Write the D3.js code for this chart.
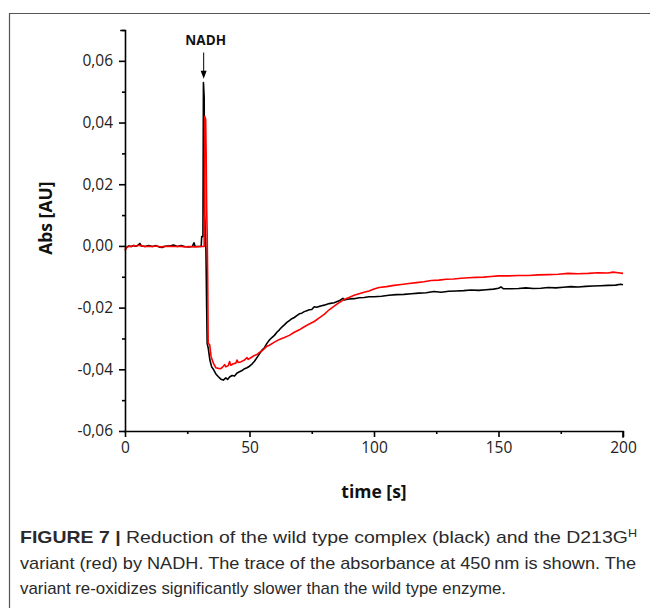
<!DOCTYPE html>
<html>
<head>
<meta charset="utf-8">
<script src="https://cdn.jsdelivr.net/npm/d3@7"></script>
<style>
  body { margin: 0; background: #fff; }
  svg { display: block; }
</style>
</head>
<body>
<div id="wrapper"></div>
<script>
// wild type complex (black), time [s] and absorbance [AU]
const wtTime = [0, 0.7, 1.5, 2.5, 3.5, 4.5, 5.5, 6, 6.5, 8, 9.5, 11, 12.5, 14, 15, 16, 18, 19.5, 21, 22.5, 24, 25.5, 27, 27.7, 28.2, 29.5, 30.6, 30.8, 31.3, 31.5, 31.8, 32.0, 32.2, 32.5, 32.8, 33.0, 33.4, 34.1, 34.8, 35.5, 36.5, 37.5, 38.5, 39.5, 40.5, 41.2, 42, 43, 44, 45, 46, 47, 48, 49, 50, 51, 52, 53, 54, 55, 56, 57, 58, 59, 60, 61, 62, 63, 64, 65, 66, 67, 68, 69, 70, 71, 72, 73, 74, 75, 76, 77, 78, 79, 80, 82, 84, 86, 87.5, 88, 90, 92, 94, 96, 98, 100, 103, 106, 109, 112, 115, 118, 121, 124, 127, 130, 133, 136, 139, 142, 145, 148, 150, 151, 152, 155, 158, 161, 164, 167, 170, 173, 176, 179, 182, 185, 188, 191, 194, 197, 199, 200]
const wtAbs = [-0.0012, -0.0004, 0.0000, -0.0002, 0.0001, -0.0001, 0.0004, 0.0008, 0.0000, -0.0002, 0.0001, -0.0002, 0.0001, -0.0004, -0.0005, -0.0001, 0.0000, 0.0003, -0.0002, 0.0001, -0.0002, -0.0003, -0.0002, 0.0010, -0.0002, -0.0002, -0.0002, 0.003, 0.003, 0.053, 0.048, 0.010, 0.006, -0.001, -0.020, -0.0316, -0.033, -0.037, -0.0392, -0.040, -0.0415, -0.0424, -0.0432, -0.0435, -0.0428, -0.0433, -0.0425, -0.0420, -0.0422, -0.0412, -0.0408, -0.0404, -0.0398, -0.0395, -0.0390, -0.0383, -0.0374, -0.0362, -0.0350, -0.0338, -0.0330, -0.0316, -0.0305, -0.0297, -0.0290, -0.0280, -0.0272, -0.0263, -0.0256, -0.0248, -0.0242, -0.0236, -0.0232, -0.0226, -0.0220, -0.0218, -0.0213, -0.0210, -0.0207, -0.0206, -0.0197, -0.0199, -0.0196, -0.0194, -0.0192, -0.0187, -0.0184, -0.0178, -0.0170, -0.0175, -0.0172, -0.0171, -0.0168, -0.0167, -0.0165, -0.0165, -0.0163, -0.0160, -0.0158, -0.0157, -0.0155, -0.0153, -0.0152, -0.0148, -0.0150, -0.0147, -0.0146, -0.0145, -0.0143, -0.0144, -0.0142, -0.0140, -0.0137, -0.0133, -0.0139, -0.0139, -0.0138, -0.0136, -0.0138, -0.0137, -0.0135, -0.0136, -0.0134, -0.0132, -0.0133, -0.0131, -0.0130, -0.0129, -0.0128, -0.0127, -0.0124, -0.0126]

// D213G variant (red)
const varTime = [0, 0.7, 1.5, 2.5, 3.5, 4.5, 5.5, 6.5, 8, 9.5, 11, 12.5, 14, 16, 18, 20, 22, 24, 26, 28, 30, 31.5, 31.8, 32.0, 32.4, 32.6, 32.8, 33.0, 33.2, 33.4, 34.0, 34.6, 35.5, 36.5, 37.5, 38.5, 39.5, 40, 40.5, 41.5, 42, 42.5, 43.5, 44.5, 45, 45.5, 46.5, 48, 49, 49.5, 51, 52, 53, 54, 55, 56, 57, 58, 60, 62, 64, 66, 68, 70, 72, 74, 76, 78, 80, 82, 84, 86, 88, 90, 92, 94, 96, 98, 100, 102, 105, 108, 111, 114, 117, 120, 123, 126, 129, 132, 135, 138, 141, 144, 147, 150, 154, 158, 162, 166, 170, 174, 178, 182, 186, 190, 194, 196, 198, 200]
const varAbs = [-0.0015, -0.0005, -0.0001, -0.0002, 0.0001, 0.0000, 0.0002, 0.0001, -0.0002, -0.0001, -0.0002, 0.0000, -0.0003, -0.0002, -0.0001, -0.0002, -0.0001, -0.0003, -0.0002, -0.0003, -0.0002, -0.0002, -0.0002, 0.042, 0.041, 0.029, 0.012, 0.004, -0.010, -0.0316, -0.032, -0.036, -0.038, -0.0395, -0.0397, -0.0398, -0.039, -0.0385, -0.0392, -0.0388, -0.0375, -0.0387, -0.0382, -0.0380, -0.0370, -0.0378, -0.0376, -0.0370, -0.0362, -0.0368, -0.0360, -0.0355, -0.0352, -0.0345, -0.0340, -0.0333, -0.0325, -0.0322, -0.0312, -0.0303, -0.0297, -0.0290, -0.0280, -0.0272, -0.0262, -0.0253, -0.0245, -0.0233, -0.0222, -0.0207, -0.0195, -0.0184, -0.0174, -0.0167, -0.0160, -0.0155, -0.0150, -0.0146, -0.0140, -0.0135, -0.0132, -0.0128, -0.0125, -0.0122, -0.0119, -0.0116, -0.0112, -0.0111, -0.0108, -0.0107, -0.0105, -0.0103, -0.0102, -0.0101, -0.0099, -0.0097, -0.0097, -0.0096, -0.0096, -0.0094, -0.0093, -0.0092, -0.0089, -0.0090, -0.0089, -0.0087, -0.0088, -0.0085, -0.0087, -0.0089]

// axis ticks
const xMajorTicks = [0, 50, 100, 150, 200]
const xMinorTicks = [25, 75, 125, 175]
const yMajorTicks = [-0.06, -0.04, -0.02, 0.00, 0.02, 0.04, 0.06]
const yMinorTicks = [-0.05, -0.03, -0.01, 0.01, 0.03, 0.05, 0.07]

const injectTime = 31.6
const injectLabel = "NADH"

const captionLines = [
  { bold: "FIGURE 7 | ", text: "Reduction of the wild type complex (black) and the D213G", sup: "H", width: 617 },
  { bold: "", text: "variant (red) by NADH. The trace of the absorbance at 450\u2009nm is shown. The", width: 616 },
  { bold: "", text: "variant re-oxidizes significantly slower than the wild type enzyme.", width: 486 },
]

function drawChart() {
  const width = 650
  const height = 608
  const dimensions = {
    width: width,
    height: height,
    margin: { top: 30, right: 27, bottom: 177, left: 125 },
  }
  dimensions.boundedWidth = dimensions.width - dimensions.margin.left - dimensions.margin.right
  dimensions.boundedHeight = dimensions.height - dimensions.margin.top - dimensions.margin.bottom

  const svg = d3
    .select("#wrapper")
    .append("svg")
    .attr("width", dimensions.width)
    .attr("height", dimensions.height)

  // figure frame (top and left edges visible)
  svg.append("path")
    .attr("d", "M9.5,608 V13.5 H650")
    .attr("fill", "none")
    .attr("stroke", "#555")
    .attr("stroke-width", 1.2)

  const bounds = svg
    .append("g")
    .attr("transform", `translate(${dimensions.margin.left},${dimensions.margin.top})`)

  const xScale = d3.scaleLinear().domain([0, 200]).range([0, dimensions.boundedWidth])
  const yScale = d3.scaleLinear().domain([-0.06, 0.07]).range([dimensions.boundedHeight, 0])

  // traces
  const lineGenerator = d3
    .line()
    .x((d) => xScale(d[0]))
    .y((d) => yScale(d[1]))

  const wtData = wtTime.map((t, i) => [t, wtAbs[i]])
  const varData = varTime.map((t, i) => [t, varAbs[i]])

  bounds.append("path")
    .datum(wtData)
    .attr("d", lineGenerator)
    .attr("fill", "none")
    .attr("stroke", "#000")
    .attr("stroke-width", 1.6)
    .attr("stroke-linejoin", "round")

  bounds.append("path")
    .datum(varData)
    .attr("d", lineGenerator)
    .attr("fill", "none")
    .attr("stroke", "#ff0000")
    .attr("stroke-width", 1.6)
    .attr("stroke-linejoin", "round")

  // axes
  const fmt = (d) => (d < -1e-9 ? "-" : "") + Math.abs(d).toFixed(2).replace(".", ",")
  const tickFont = "'Open Sans', sans-serif"

  const yAxis = bounds.append("g")
    .call(d3.axisLeft(yScale).tickValues(yMajorTicks).tickFormat(fmt).tickSize(6).tickPadding(6))
  const yMinor = bounds.append("g")
    .call(d3.axisLeft(yScale).tickValues(yMinorTicks).tickFormat("").tickSize(3))
  yMinor.select(".domain").remove()

  const xAxis = bounds.append("g")
    .attr("transform", `translate(0,${dimensions.boundedHeight})`)
    .call(d3.axisBottom(xScale).tickValues(xMajorTicks).tickFormat(d3.format("d")).tickSize(6).tickPadding(5))
  const xMinor = bounds.append("g")
    .attr("transform", `translate(0,${dimensions.boundedHeight})`)
    .call(d3.axisBottom(xScale).tickValues(xMinorTicks).tickFormat("").tickSize(3))
  xMinor.select(".domain").remove()

  ;[yAxis, yMinor, xAxis, xMinor].forEach((g) => {
    g.selectAll(".domain, line").attr("stroke", "#000").attr("stroke-width", 1.6)
    g.select(".domain").attr("stroke-linecap", "square")
    g.selectAll("text")
      .attr("fill", "#222")
      .style("font-family", tickFont)
      .style("font-size", "15.5px")
  })
  yAxis.select(".domain").attr("d", `M-4,0.5 H0.5 V${dimensions.boundedHeight}`)
  xAxis.select(".domain").attr("d", `M0,0.5 H${dimensions.boundedWidth} V6`)

  // axis labels
  bounds.append("text")
    .attr("x", dimensions.boundedWidth / 2)
    .attr("y", dimensions.boundedHeight + 67)
    .attr("text-anchor", "middle")
    .style("font-family", tickFont)
    .style("font-weight", "bold")
    .style("font-size", "17.5px")
    .attr("fill", "#111")
    .text("time [s]")

  bounds.append("text")
    .attr("transform", `translate(-73,${yScale(0.009)}) rotate(-90)`)
    .attr("text-anchor", "middle")
    .style("font-family", tickFont)
    .style("font-weight", "bold")
    .style("font-size", "17.5px")
    .attr("fill", "#111")
    .text("Abs [AU]")

  // NADH injection arrow
  const ax = xScale(injectTime)
  bounds.append("text")
    .attr("x", ax + 2)
    .attr("y", yScale(0.0652))
    .attr("text-anchor", "middle")
    .style("font-family", tickFont)
    .style("font-weight", "bold")
    .style("font-size", "13.5px")
    .attr("fill", "#111")
    .text(injectLabel)
  bounds.append("line")
    .attr("x1", ax).attr("x2", ax)
    .attr("y1", yScale(0.0627)).attr("y2", yScale(0.0565))
    .attr("stroke", "#000")
    .attr("stroke-width", 1)
  bounds.append("path")
    .attr("d", `M${ax - 3},${yScale(0.0568)} L${ax + 3},${yScale(0.0568)} L${ax},${yScale(0.0542)} Z`)
    .attr("fill", "#000")

  // caption
  const caption = svg.append("g").attr("transform", "translate(20,0)")
  const lineY = [543, 569, 594]
  captionLines.forEach((line, i) => {
    const t = caption.append("text")
      .attr("x", 0)
      .attr("y", lineY[i])
      .style("font-family", "'Liberation Sans', Arial, sans-serif")
      .style("font-size", "17px")
      .attr("fill", "#2a2a2a")
      .attr("textLength", line.width)
      .attr("lengthAdjust", "spacingAndGlyphs")
    if (line.bold) t.append("tspan").style("font-weight", "bold").text(line.bold)
    t.append("tspan").text(line.text)
    if (line.sup) t.append("tspan").attr("dy", -6).style("font-size", "11px").text(line.sup)
  })
}
drawChart()
</script>
</body>
</html>
